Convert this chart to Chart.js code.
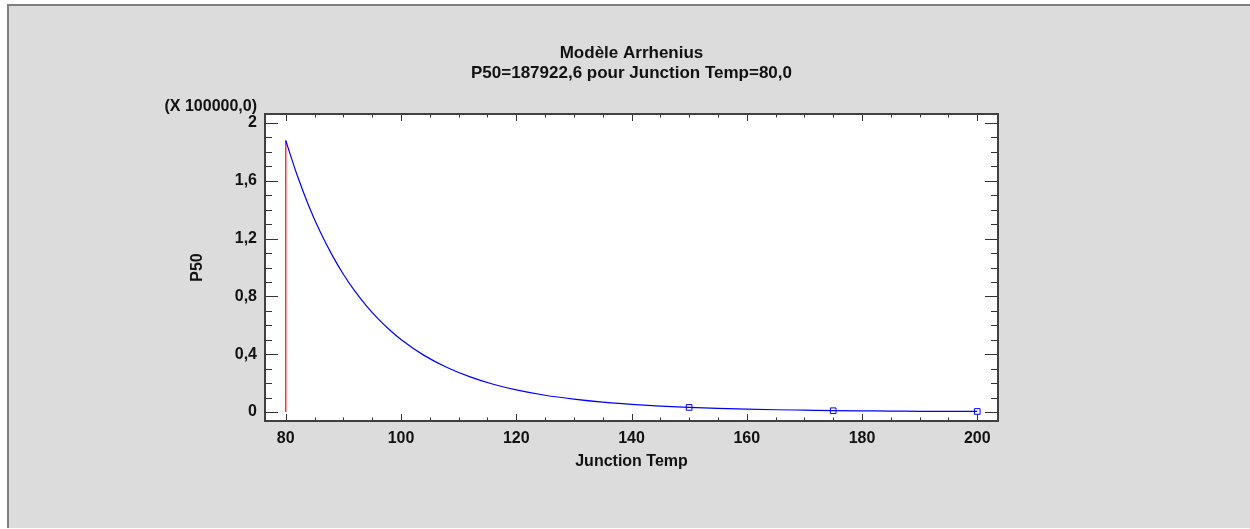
<!DOCTYPE html>
<html>
<head>
<meta charset="utf-8">
<script src="https://cdn.jsdelivr.net/npm/chart.js@4"></script>
<style>
  html, body { margin: 0; padding: 0; background: #fff; }
  canvas { display: block; }
</style>
</head>
<body>
<canvas id="myChart" width="1250" height="529"></canvas>
<script>
// values in units of 100000 (axis shows "(X 100000,0)")
const temps = [80, 82, 84, 86, 88, 90, 92, 94, 96, 98, 100, 104, 108, 112, 116, 120, 125, 130, 135, 140, 145, 150, 155, 160, 165, 170, 175, 180, 185, 190, 195, 200];
const p50 = [1.879, 1.636, 1.426, 1.245, 1.089, 0.953, 0.836, 0.735, 0.646, 0.569, 0.502, 0.392, 0.308, 0.243, 0.192, 0.153, 0.116, 0.089, 0.068, 0.053, 0.041, 0.032, 0.025, 0.020, 0.016, 0.013, 0.010, 0.008, 0.007, 0.005, 0.004, 0.004];
const testTemps = [150, 175, 200];
const testP50 = [0.032, 0.009, 0.004];
const refTemp = 80;
const refP50 = 1.879;

const xTicks = [80, 100, 120, 140, 160, 180, 200];
const yTicks = [0, 0.4, 0.8, 1.2, 1.6, 2];
const yTickLabels = ["0", "0,4", "0,8", "1,2", "1,6", "2"];

const chartTitle = "Modèle Arrhenius";
const chartSubtitle = "P50=187922,6 pour Junction Temp=80,0";
const yMultiplier = "(X 100000,0)";

Chart.defaults.font.family = '"Liberation Sans", Arial, sans-serif';
Chart.defaults.color = "#111";

const frame = {
  id: "frame",
  beforeDraw(chart) {
    const ctx = chart.ctx;
    const a = chart.chartArea;
    ctx.save();
    ctx.fillStyle = "#fff";
    ctx.fillRect(0, 0, chart.width, chart.height);
    ctx.fillStyle = "#dcdcdc";
    ctx.fillRect(7, 4, chart.width - 7, 524);
    ctx.fillStyle = "#808080";
    ctx.fillRect(7, 4, 2, 524);
    ctx.fillRect(7, 4, chart.width - 7, 2);
    ctx.fillStyle = "#fff";
    ctx.fillRect(a.left, a.top, a.right - a.left, a.bottom - a.top);
    ctx.restore();
  },
  afterDraw(chart) {
    const ctx = chart.ctx;
    const a = chart.chartArea;
    const xs = chart.scales.x;
    const ys = chart.scales.y;
    ctx.save();
    // inward ticks
    ctx.strokeStyle = "#333";
    ctx.lineWidth = 1;
    ctx.beginPath();
    for (let i = 0; i <= 20; i++) {
      const y = Math.round(ys.getPixelForValue(i / 10)) + 0.5;
      const len = i % 4 === 0 ? 13 : 7;
      ctx.moveTo(a.left, y);
      ctx.lineTo(a.left + len, y);
      ctx.moveTo(a.right, y);
      ctx.lineTo(a.right - len, y);
    }
    for (let t = 80; t <= 200; t += 5) {
      const x = Math.round(xs.getPixelForValue(t)) + 0.5;
      const len = t % 20 === 0 ? 7 : 3.5;
      ctx.moveTo(x, a.bottom);
      ctx.lineTo(x, a.bottom - len);
      ctx.moveTo(x, a.top);
      ctx.lineTo(x, a.top + len);
    }
    ctx.stroke();
    // plot border
    ctx.strokeStyle = "#404040";
    ctx.lineWidth = 2;
    ctx.strokeRect(a.left, a.top, a.right - a.left, a.bottom - a.top);
    // titles
    ctx.fillStyle = "#111";
    ctx.textAlign = "center";
    ctx.textBaseline = "alphabetic";
    ctx.font = 'bold 17px "Liberation Sans", Arial, sans-serif';
    const cx = (a.left + a.right) / 2;
    ctx.fillText(chartTitle, cx, 58);
    ctx.fillText(chartSubtitle, cx, 78);
    ctx.font = 'bold 16px "Liberation Sans", Arial, sans-serif';
    ctx.textAlign = "right";
    ctx.fillText(yMultiplier, 257, 111);
    ctx.restore();
  }
};

const ctx = document.getElementById("myChart").getContext("2d");
const myChart = new Chart(ctx, {
  type: "line",
  data: {
    datasets: [
      {
        label: "P50",
        data: temps.map((t, i) => ({ x: t, y: p50[i] })),
        borderColor: "#0000ff",
        borderWidth: 1.2,
        pointRadius: 0,
        cubicInterpolationMode: "monotone",
        fill: false,
      },
      {
        label: "essais",
        data: testTemps.map((t, i) => ({ x: t, y: testP50[i] })),
        showLine: false,
        pointStyle: "rect",
        pointRadius: 4,
        pointBorderColor: "#0000ff",
        pointBackgroundColor: "#fff",
        pointBorderWidth: 1,
      },
      {
        label: "ref",
        data: [{ x: refTemp, y: 0 }, { x: refTemp, y: refP50 }],
        borderColor: "#ff3030",
        borderWidth: 1.5,
        pointRadius: 0,
        fill: false,
      },
    ],
  },
  options: {
    responsive: false,
    animation: false,
    devicePixelRatio: 1,
    layout: { padding: { left: 0, right: 252, top: 114, bottom: 0 } },
    plugins: {
      legend: { display: false },
      tooltip: { enabled: false },
    },
    scales: {
      x: {
        type: "linear",
        min: 76.4,
        max: 203.6,
        afterBuildTicks: (s) => { s.ticks = xTicks.map((v) => ({ value: v })); },
        afterFit: (s) => { s.height = 108; },
        ticks: {
          font: { size: 16, weight: "bold" },
          padding: 8,
          maxRotation: 0,
          autoSkip: false,
          callback: (v) => String(v),
        },
        grid: { display: false, drawTicks: false },
        border: { display: false },
        title: {
          display: true,
          text: "Junction Temp",
          font: { size: 16, weight: "bold" },
          padding: { top: 0, bottom: 58 },
        },
      },
      y: {
        type: "linear",
        min: -0.062,
        max: 2.062,
        afterBuildTicks: (s) => { s.ticks = yTicks.map((v) => ({ value: v })); },
        afterFit: (s) => { s.width = 265; },
        ticks: {
          font: { size: 16, weight: "bold" },
          padding: 8,
          autoSkip: false,
          callback: (v) => yTickLabels[yTicks.indexOf(v)],
        },
        grid: { display: false, drawTicks: false },
        border: { display: false },
        title: {
          display: true,
          text: "P50",
          font: { size: 16, weight: "bold" },
          padding: { top: 188, bottom: 0 },
        },
      },
    },
  },
  plugins: [frame],
});
</script>
</body>
</html>
